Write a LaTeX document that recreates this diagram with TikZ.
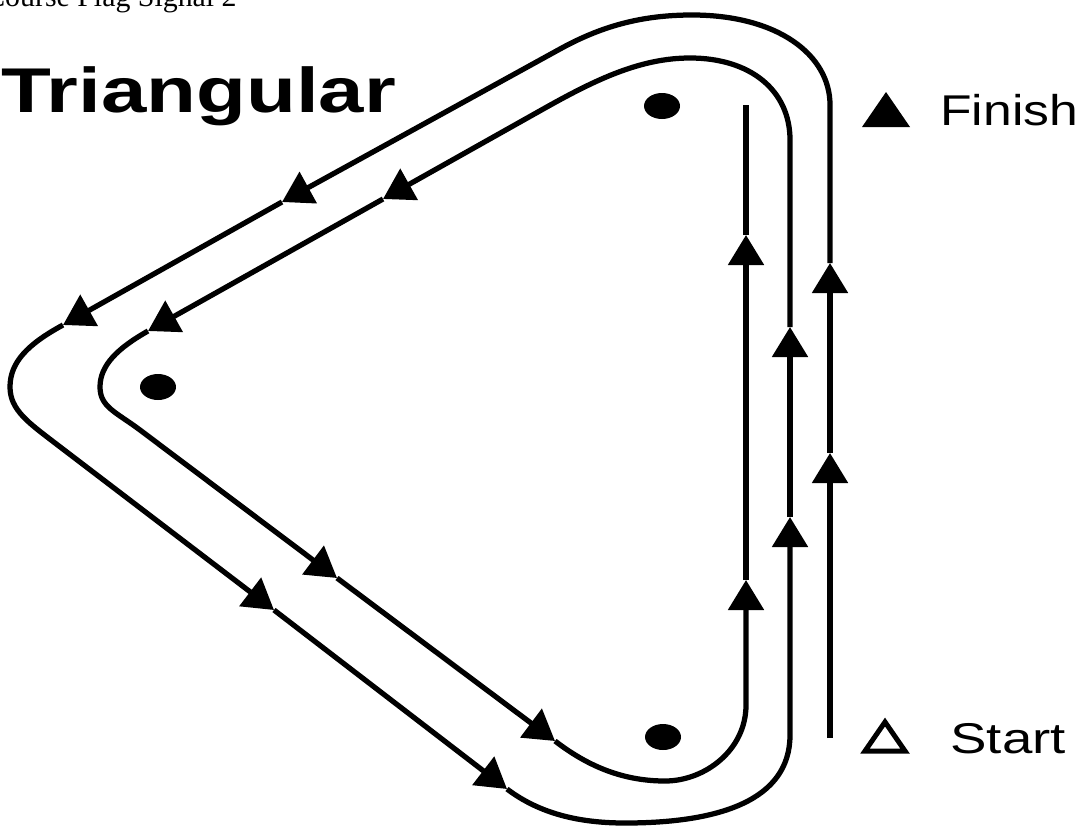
\documentclass[tikz,border=0pt]{standalone}
\usepackage{fontspec}
\setmainfont{Liberation Serif}
\newfontfamily\arialfont{Liberation Sans}
\usepackage{graphicx}
\usetikzlibrary{arrows.meta, shapes.geometric}

\begin{document}
\begin{tikzpicture}[x=0.02cm, y=-0.02cm,
    track/.style={line width=0.105cm, line join=round},
    leg/.style={track, -{Triangle[length=0.6cm, width=0.7cm]}},
    buoy/.style={ellipse, fill=black, minimum width=0.72cm,
                 minimum height=0.52cm, inner sep=0pt},
    lbl/.style={anchor=base west, inner sep=0pt,
                font=\arialfont\fontsize{24.5pt}{24.5pt}\selectfont},
]
\useasboundingbox (0,0) rectangle (1087,825);

% -- Titles --
\node[anchor=base east, inner sep=0pt,
      font=\fontsize{17pt}{17pt}\selectfont] (caption)
    at (237,6) {Course Flag Signal 2};
\node[anchor=base west, inner sep=0pt,
      font=\arialfont\bfseries\fontsize{36pt}{36pt}\selectfont] (title)
    at (1,112) {\scalebox{1.29}[1]{Triangular}};

% -- Marks --
\node[buoy] (top) at (662,106) {};
\node[buoy] (left) at (158,387) {};
\node[buoy] (bottom) at (663,737) {};

% -- Finish / start signs --
\fill (862,127) -- (886,92) -- (910,127) -- cycle;
\node[lbl] (finish) at (940,125) {\scalebox{1.2}[1]{Finish}};
\draw[line width=0.1cm, line join=miter]
    (865,751) -- (885,722) -- (905,751) -- cycle;
\node[lbl] (start) at (950,753) {\scalebox{1.27}[1]{Start}};

% -- Course points (arrow tips) --
\coordinate (o0) at (830,738);
\coordinate (o1) at (830,453);
\coordinate (o2) at (830,263);
\coordinate (o3) at (282,202);
\coordinate (o4) at (63,325);
\coordinate (o5) at (274,610);
\coordinate (o6) at (507,789);
\coordinate (m1) at (790,517);
\coordinate (m2) at (790,327);
\coordinate (m3) at (383,199);
\coordinate (m4) at (148,331);
\coordinate (m5) at (337,578);
\coordinate (m6) at (555,741);
\coordinate (f1) at (746,580);
\coordinate (f2) at (746,235);
\coordinate (f3) at (746,105);

% -- First lap (outer) --
\draw[leg] (o0) -- (o1);
\draw[leg] (o1) -- (o2);
\draw[leg] (o2) -- (830,105)
    .. controls (830,55) and (778,15) .. (692,15)
    .. controls (640,15) and (600,27) .. (560,49) -- (o3);
\draw[leg] (o3) -- (o4);
\draw[leg] (o4) .. controls (28,344) and (10,362) .. (10,387)
    .. controls (10,410) and (29,423) .. (55,443) -- (o5);
\draw[leg] (o5) -- (o6);
\draw[leg] (o6) .. controls (540,814) and (580,823) .. (625,823)
    .. controls (720,823) and (790,800) .. (790,735) -- (m1);

% -- Second lap (inner) --
\draw[leg] (m1) -- (m2);
\draw[leg] (m2) -- (790,140)
    .. controls (790,90) and (750,58) .. (690,58)
    .. controls (640,58) and (595,80) .. (545,108) -- (m3);
\draw[leg] (m3) -- (m4);
\draw[leg] (m4) .. controls (118,348) and (100,365) .. (100,387)
    .. controls (100,407) and (116,412) .. (140,430) -- (m5);
\draw[leg] (m5) -- (m6);
\draw[leg] (m6) .. controls (585,764) and (620,781) .. (665,781)
    .. controls (705,781) and (746,750) .. (746,705) -- (f1);

% -- Final beat to finish --
\draw[leg] (f1) -- (f2);
\draw[track] (f2) -- (f3);

\end{tikzpicture}
\end{document}
